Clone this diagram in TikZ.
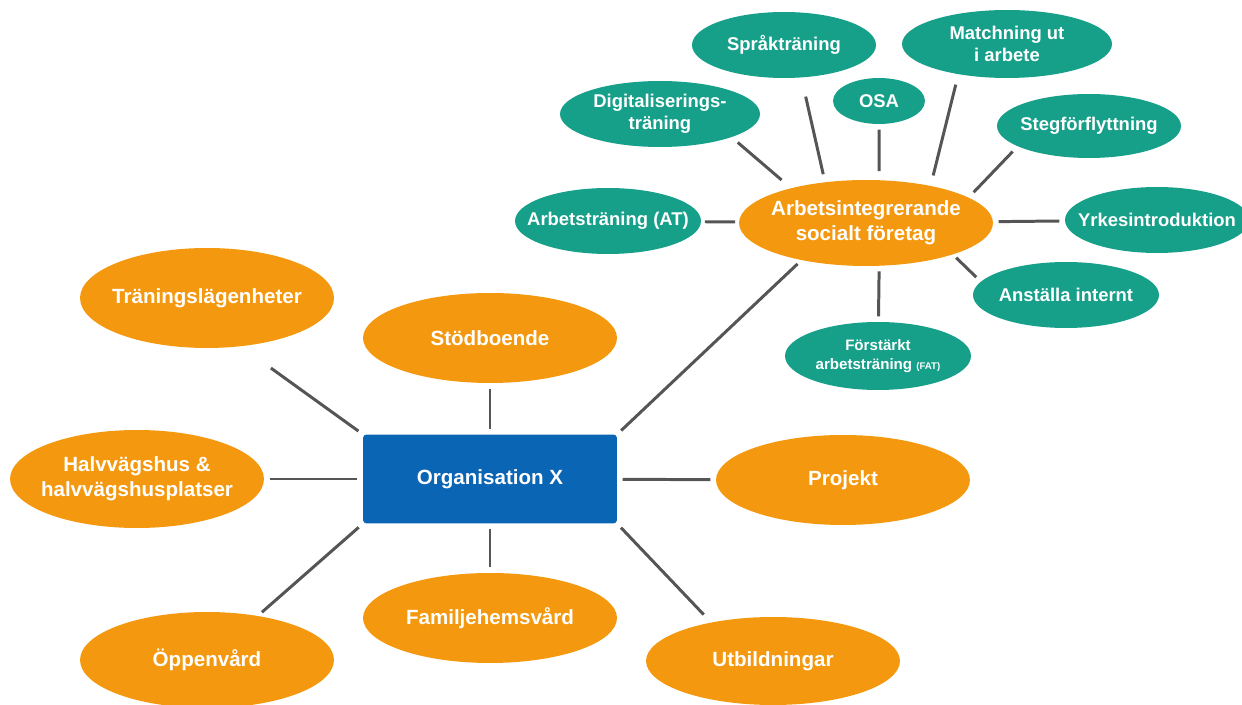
\documentclass[tikz,border=0pt]{standalone}
\usepackage{fontspec}
\setmainfont{Liberation Sans}
\usetikzlibrary{shapes.geometric}

\definecolor{orgorange}{HTML}{F4990F}
\definecolor{orgteal}{HTML}{169F89}
\definecolor{orgblue}{HTML}{0B65B5}
\definecolor{linkgray}{HTML}{555555}

\tikzset{
  ob/.style={ellipse, fill=orgorange, text=white, inner xsep=-3cm, inner ysep=-1cm,
    minimum width=5.08cm, align=center, font=\fontsize{11.7}{14}\selectfont\bfseries},
  tb/.style={ellipse, fill=orgteal, text=white, inner xsep=-3cm, inner ysep=-1cm,
    align=center, font=\fontsize{10.5}{12.5}\selectfont\bfseries},
  orgbox/.style={rectangle, rounded corners=2pt, fill=orgblue, text=white,
    minimum width=5.08cm, minimum height=1.78cm, font=\fontsize{11.7}{14}\selectfont\bfseries},
  link/.style={draw=linkgray, line width=1.7pt, shorten <=3pt, shorten >=3pt},
}

\begin{document}
\begin{tikzpicture}[x=0.02cm,y=-0.02cm]
      \useasboundingbox (0,0) rectangle (1242,705);

      \node[orgbox] (org) at (490,479) {Organisation X};

      \node[ob, minimum height=2.0cm]  (trl)   at (207,298) {Träningslägenheter};
      \node[ob, minimum height=1.8cm]  (stod)  at (490,338) {Stödboende};
      \node[ob, minimum height=1.96cm] (halv)  at (137,479) {Halvvägshus \&\\halvvägshusplatser};
      \node[ob, minimum height=1.92cm] (oppen) at (207,660) {Öppenvård};
      \node[ob, minimum height=1.8cm]  (fam)   at (490,618) {Familjehemsvård};
      \node[ob, minimum height=1.8cm]  (proj)  at (843,480) {Projekt};
      \node[ob, minimum height=1.76cm] (utb)   at (773,661) {Utbildningar};
      \node[ob, minimum height=1.72cm] (ais)   at (866,223) {Arbetsintegrerande\\socialt företag};

      \node[tb, minimum width=3.68cm, minimum height=1.32cm] (sprak) at (784,45)   {Språkträning};
      \node[tb, minimum width=4.2cm,  minimum height=1.36cm] (match) at (1007,44)  {Matchning ut\\i arbete};
      \node[tb, minimum width=1.84cm, minimum height=0.92cm] (osa)   at (879,101)  {OSA};
      \node[tb, minimum width=4.0cm,  minimum height=1.32cm] (digi)  at (660,114)  {Digitaliserings-\\träning};
      \node[tb, minimum width=3.68cm, minimum height=1.28cm] (steg)  at (1089,126) {Stegförflyttning};
      \node[tb, minimum width=3.72cm, minimum height=1.32cm] (at)    at (608,221)  {Arbetsträning (AT)};
      \node[tb, minimum width=3.68cm, minimum height=1.32cm] (yrke)  at (1157,220) {Yrkesintroduktion};
      \node[tb, minimum width=3.72cm, minimum height=1.32cm] (anst)  at (1066,295) {Anställa internt};
      \node[tb, minimum width=3.72cm, minimum height=1.36cm,
        font=\fontsize{8.6}{11}\selectfont\bfseries] (fat) at (878,356)
        {Förstärkt\\arbetsträning {\fontsize{5.5}{7}\selectfont (FAT)}};

      \draw[link, shorten <=21pt] (trl.-55) -- (org.north west);
      \draw[link] (stod) -- (org);
      \draw[link] (halv) -- (org);
      \draw[link] (oppen.41) -- (org.south west);
      \draw[link] (fam) -- (org);
      \draw[link] (proj) -- (org);
      \draw[link, shorten <=6pt] (utb.148) -- (org.south east);
      \draw[link] (ais.210) -- (org.north east);

      \draw[link, shorten <=2pt, shorten >=2pt] (at) -- (ais);
      \draw[link, shorten <=4.5pt, shorten >=7pt] (digi.-18) -- (ais.155);
      \draw[link, shorten <=11pt, shorten >=4.5pt] (sprak.-62) -- (ais.135);
      \draw[link, shorten >=5pt] (osa) -- (ais.73);
      \draw[link, shorten <=6pt, shorten >=6pt] (match.212) -- (ais.30);
      \draw[link, shorten <=4pt, shorten >=4pt] (steg.196) -- (ais.14);
      \draw[link] (yrke) -- (ais);
      \draw[link, shorten <=3.5pt, shorten >=2.5pt] (anst.171) -- (ais.-20);
      \draw[link] (fat) -- (ais.-73);
    \end{tikzpicture}
\end{document}
